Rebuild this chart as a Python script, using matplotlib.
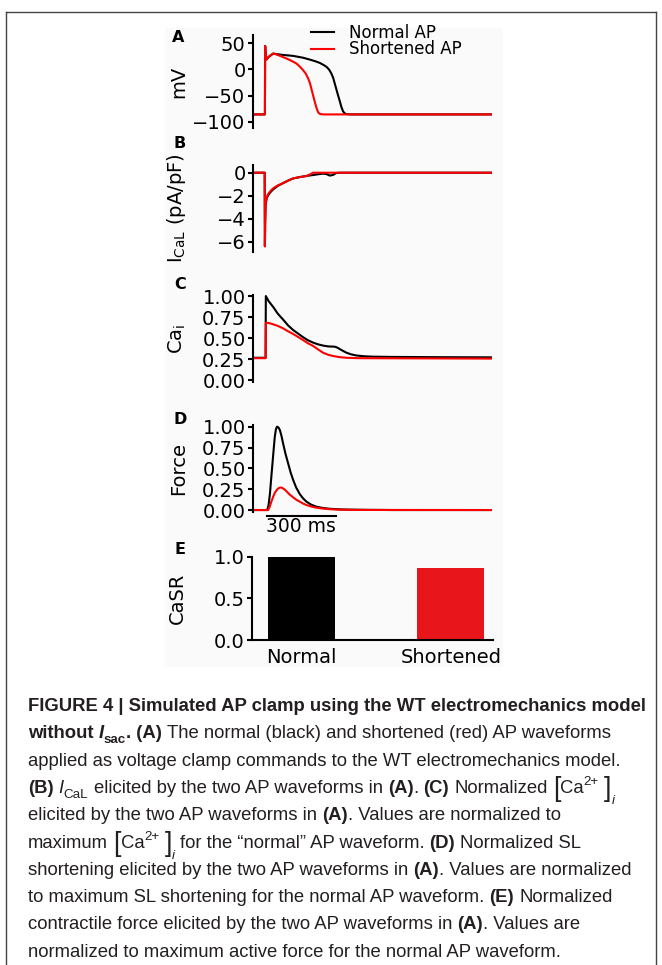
import matplotlib
matplotlib.use("Agg")
import matplotlib.pyplot as plt
from matplotlib.lines import Line2D
from matplotlib.patches import Rectangle
from matplotlib.font_manager import FontProperties

W, H = 662, 965

# ---- data (time in ms) ----
# (A) membrane potential, mV
t_ap_normal = [0, 44, 45, 47, 51, 60, 80, 94, 120, 167, 210, 239, 265, 283, 300, 312,
               323, 333, 341, 348, 355, 362, 370, 377, 384, 391, 400, 420, 1030]
v_ap_normal = [-86, -86, 45, 30, 19, 24, 30.5, 29.5, 28, 26, 22.5, 19, 15.5, 12.5, 8.5, 5,
               0, -7.5, -16, -27, -38, -49, -61, -72, -80, -84, -85.5, -86, -86]
t_ap_short = [0, 44, 45, 47, 51, 60, 80, 94, 110, 138, 160, 181, 196, 210, 222, 232, 240,
              246, 254, 261, 268, 275, 283, 297, 320, 1030]
v_ap_short = [-86, -86, 45, 30, 19, 24, 30.5, 28.8, 26, 21, 16.5, 11.5, 5.5, -1.3, -8, -17,
              -26, -36.5, -50, -62, -73, -81.5, -85, -86, -86, -86]

# (B) I_CaL, pA/pF
t_ical_normal = [0, 43, 44, 45, 47, 52, 60, 70, 80, 100, 123, 145, 167, 196, 225, 254, 280,
                 300, 312, 326, 340, 354, 370, 1030]
v_ical_normal = [0, 0, -6.4, -4.5, -2.8, -2.2, -1.9, -1.65, -1.45, -1.15, -0.9, -0.68, -0.5,
                 -0.38, -0.28, -0.2, -0.12, -0.08, -0.12, -0.25, -0.2, -0.03, 0, 0]
t_ical_short = [0, 43, 44, 45, 47, 52, 60, 70, 80, 100, 123, 145, 167, 196, 225, 240, 254, 1030]
v_ical_short = [0, 0, -6.4, -4.5, -2.7, -2.1, -1.8, -1.55, -1.36, -1.1, -0.92, -0.7, -0.49,
                -0.38, -0.29, -0.15, 0, 0]

# (C) normalized Ca_i
t_cai_normal = [0, 47, 48, 60, 80, 100, 123, 145, 167, 190, 210, 230, 254, 275, 297, 320,
                348, 360, 370, 385, 399, 420, 442, 480, 514, 600, 800, 1030]
v_cai_normal = [0.265, 0.265, 1.0, 0.94, 0.87, 0.79, 0.72, 0.65, 0.595, 0.55, 0.51, 0.475,
                0.445, 0.425, 0.41, 0.40, 0.397, 0.385, 0.368, 0.345, 0.325, 0.305, 0.292,
                0.282, 0.278, 0.275, 0.272, 0.27]
t_cai_short = [0, 47, 48, 60, 72, 100, 123, 145, 167, 190, 210, 230, 254, 275, 297, 320,
               341, 370, 399, 450, 1030]
v_cai_short = [0.26, 0.26, 0.68, 0.68, 0.67, 0.645, 0.615, 0.58, 0.548, 0.51, 0.476, 0.44,
               0.405, 0.365, 0.325, 0.3, 0.286, 0.272, 0.265, 0.26, 0.255]

# (D) normalized force
t_force_normal = [0, 54, 60, 66, 72, 80, 87, 92, 97, 103, 109, 116, 123, 134, 145, 156, 167,
                  180, 196, 210, 225, 245, 268, 295, 326, 370, 413, 500, 600, 1030]
v_force_normal = [0, 0, 0.06, 0.2, 0.4, 0.66, 0.88, 0.97, 1.0, 0.99, 0.96, 0.89, 0.8, 0.67,
                  0.56, 0.45, 0.36, 0.27, 0.19, 0.14, 0.1, 0.065, 0.04, 0.025, 0.015, 0.008,
                  0.005, 0.002, 0, 0]
t_force_short = [0, 58, 65, 72, 80, 88, 97, 105, 112, 120, 130, 138, 150, 167, 180, 196, 210,
                 225, 245, 268, 295, 326, 370, 450, 1030]
v_force_short = [0, 0, 0.04, 0.1, 0.16, 0.21, 0.245, 0.265, 0.27, 0.265, 0.245, 0.225, 0.19,
                 0.152, 0.125, 0.1, 0.078, 0.06, 0.042, 0.028, 0.018, 0.01, 0.004, 0.001, 0]

# (E) CaSR
casr_labels = ["Normal", "Shortened"]
casr_values = [1.0, 0.86]

BLACK = "#000000"
RED = "#ff0000"
BAR_RED = "#e8161b"

plt.rcParams["font.family"] = "DejaVu Sans"
plt.rcParams["mathtext.default"] = "regular"

fig = plt.figure(figsize=(W / 100, H / 100), dpi=100)


def box(left, top, right, bottom):
    # pixel box -> figure fraction rect
    return [left / W, 1 - bottom / H, (right - left) / W, (bottom - top) / H]


def style_trace_axes(ax, ylim, yticks, ylabel):
    ax.set_facecolor("none")
    for s in ["top", "right", "bottom"]:
        ax.spines[s].set_visible(False)
    ax.spines["left"].set_linewidth(1.5)
    ax.set_xlim(-10, 1030)
    ax.set_xticks([])
    ax.set_ylim(ylim)
    ax.set_yticks(yticks)
    ax.tick_params(axis="y", length=3.5, width=1.5, pad=1.5, labelsize=14)
    ax.set_ylabel(ylabel, fontsize=14)
    ax.yaxis.set_label_coords(-0.27, 0.5)


# frame and light panel background
fig.add_artist(Rectangle((165 / W, 1 - 667 / H), (503 - 165) / W, (667 - 28) / H,
                         transform=fig.transFigure, facecolor="#fafafa",
                         edgecolor="none", zorder=-5))
for xs, ys in [([6, 6], [12, H]), ([6, 656], [12, 12]), ([656, 656], [12, H])]:
    fig.add_artist(Line2D([x / W for x in xs], [1 - y / H for y in ys],
                          transform=fig.transFigure, color="#444444", lw=1))

# (A)
axA = fig.add_axes(box(252.5, 35, 491.5, 128))
axA.plot(t_ap_normal, v_ap_normal, color=BLACK, lw=1.5, label="Normal AP")
axA.plot(t_ap_short, v_ap_short, color=RED, lw=1.5, label="Shortened AP")
style_trace_axes(axA, (-112, 66), [-100, -50, 0, 50], "mV")
axA.legend(loc="upper left", bbox_to_anchor=(311 / W, 1 - 24 / H),
           bbox_transform=fig.transFigure, frameon=False, fontsize=12,
           handlelength=1.4, handletextpad=0.9, labelspacing=-0.1,
           borderpad=0, borderaxespad=0)

# (B)
axB = fig.add_axes(box(252.5, 165, 491.5, 251.7))
axB.plot(t_ical_normal, v_ical_normal, color=BLACK, lw=1.5)
axB.plot(t_ical_short, v_ical_short, color=RED, lw=1.5)
style_trace_axes(axB, (-6.87, 0.67), [-6, -4, -2, 0], "$I_{CaL}$ (pA/pF)")

# (C)
axC = fig.add_axes(box(252.5, 295.2, 491.5, 381.7))
axC.plot(t_cai_normal, v_cai_normal, color=BLACK, lw=1.5)
axC.plot(t_cai_short, v_cai_short, color=RED, lw=1.5)
style_trace_axes(axC, (-0.02, 1.01), [0, 0.25, 0.5, 0.75, 1.0], "$Ca_i$")

# (D)
axD = fig.add_axes(box(252.5, 425, 491.5, 511.7))
axD.plot(t_force_normal, v_force_normal, color=BLACK, lw=1.5)
axD.plot(t_force_short, v_force_short, color=RED, lw=1.5)
style_trace_axes(axD, (-0.02, 1.02), [0, 0.25, 0.5, 0.75, 1.0], "Force")
# 300 ms scale bar
axD.plot([52, 352], [-0.072, -0.072], color=BLACK, lw=1.5, clip_on=False)
axD.text(202, -0.264, "300 ms", ha="center", va="baseline", fontsize=13.5)

# (E)
axE = fig.add_axes(box(251.7, 556.7, 493, 640))
axE.set_facecolor("none")
axE.bar([0, 1], casr_values, width=0.45, color=[BLACK, BAR_RED])
axE.set_xlim(-0.336, 1.283)
axE.set_ylim(0, 1.0)
axE.set_yticks([0, 0.5, 1.0])
axE.set_xticks([0, 1])
axE.set_xticklabels(casr_labels)
for s in ["top", "right"]:
    axE.spines[s].set_visible(False)
for s in ["left", "bottom"]:
    axE.spines[s].set_linewidth(1.5)
axE.tick_params(axis="y", length=3.5, width=1.5, pad=1.5, labelsize=14)
axE.tick_params(axis="x", length=0, pad=6, labelsize=14)
axE.set_ylabel("CaSR", fontsize=14)
axE.yaxis.set_label_coords(-0.268, 0.5)

# panel letters
for letter, (px, py) in zip("ABCDE", [(178, 37), (180, 144), (180, 285), (180, 420), (180, 549)]):
    fig.text(px / W, 1 - py / H, letter, ha="center", va="center",
             fontsize=11.5, fontweight="bold")

# ---- caption, laid out run by run ----
CAP_FONT = "Liberation Sans"
CAP_SIZE = 13.35
CAP_COLOR = "#231f20"
renderer = fig.canvas.get_renderer()


def props(kind):
    weight = "bold" if "b" in kind.split("_")[0] else "normal"
    style = "italic" if "i" in kind.split("_")[0] else "normal"
    size = CAP_SIZE
    if kind.endswith("_sub") or kind.endswith("_sup"):
        size = CAP_SIZE * 0.72
    if kind == "br":
        size = CAP_SIZE * 1.45
        weight = "normal"
        style = "normal"
    return FontProperties(family=CAP_FONT, size=size, weight=weight, style=style)


def advance(s, fp):
    w1 = renderer.get_text_width_height_descent("x" + s + "x", fp, ismath=False)[0]
    w0 = renderer.get_text_width_height_descent("xx", fp, ismath=False)[0]
    return w1 - w0


def draw_line(runs, x0, base):
    x = x0
    for s, kind in runs:
        fp = props(kind)
        em = CAP_SIZE * 100 / 72
        dy = 0
        if kind.endswith("_sub"):
            dy = 0.25 * em
        if kind.endswith("_sup"):
            dy = -0.42 * em
        if kind == "br":
            dy = 0.18 * em
        if kind == "i_sub" and s == "i":
            dy = 0.62 * em
        core = s.strip(" ")
        lead = len(s) - len(s.lstrip(" "))
        if core:
            fig.text((x + lead * advance(" ", fp)) / W, 1 - (base + dy) / H, core,
                     fontproperties=fp, color=CAP_COLOR, ha="left", va="baseline")
        x += advance(s, fp)


caption = [
    [("FIGURE 4 | Simulated AP clamp using the WT electromechanics model", "b")],
    [("without ", "b"), ("I", "bi"), ("sac", "b_sub"), (". (A)", "b"),
     (" The normal (black) and shortened (red) AP waveforms", "r")],
    [("applied as voltage clamp commands to the WT electromechanics model.", "r")],
    [("(B)", "b"), (" ", "r"), ("I", "i"), ("CaL", "r_sub"),
     (" elicited by the two AP waveforms in ", "r"), ("(A)", "b"), (". ", "r"),
     ("(C)", "b"), (" Normalized ", "r"), ("[", "br"), ("Ca", "r"), ("2+", "r_sup"),
     (" ", "r"), ("]", "br"), ("i", "i_sub")],
    [("elicited by the two AP waveforms in ", "r"), ("(A)", "b"),
     (". Values are normalized to", "r")],
    [("maximum ", "r"), ("[", "br"), ("Ca", "r"), ("2+", "r_sup"), (" ", "r"), ("]", "br"),
     ("i", "i_sub"), (" for the \u201cnormal\u201d AP waveform. ", "r"), ("(D)", "b"),
     (" Normalized SL", "r")],
    [("shortening elicited by the two AP waveforms in ", "r"), ("(A)", "b"),
     (". Values are normalized", "r")],
    [("to maximum SL shortening for the normal AP waveform. ", "r"), ("(E)", "b"),
     (" Normalized", "r")],
    [("contractile force elicited by the two AP waveforms in ", "r"), ("(A)", "b"),
     (". Values are", "r")],
    [("normalized to maximum active force for the normal AP waveform.", "r")],
]

for i, runs in enumerate(caption):
    draw_line(runs, 28, 711 + 27.3 * i)

fig.savefig("out.png", dpi=100)
